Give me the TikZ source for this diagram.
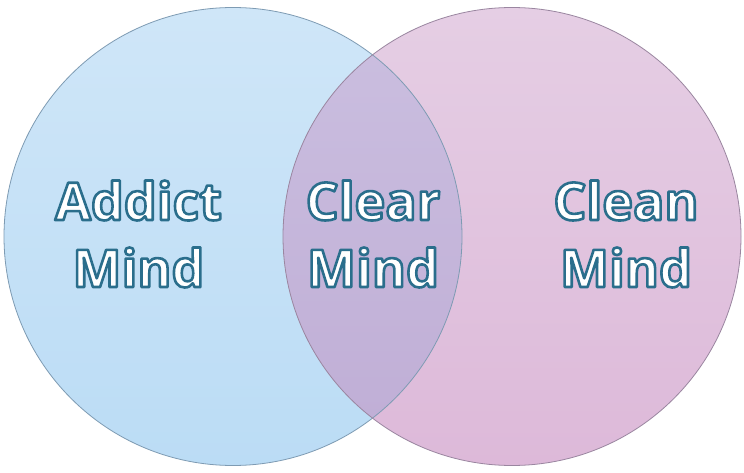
\documentclass[tikz,border=0pt]{standalone}
\usepackage{fontspec}
\newfontfamily\lblfont{Open Sans}
\newcommand{\outlined}[1]{\special{pdf:literal direct 2 Tr 2.6 w 1 j 0.165 0.431 0.549 RG}#1\special{pdf:literal direct 0 Tr}}
\definecolor{blueTop}{HTML}{CFE6F8}
\definecolor{blueBot}{HTML}{BBDCF5}
\definecolor{pinkTop}{HTML}{E5CEE4}
\definecolor{pinkBot}{HTML}{DDB9D9}
\definecolor{midTop}{HTML}{CBBFE0}
\definecolor{midBot}{HTML}{BFADD5}
\definecolor{blueEdge}{HTML}{7E9BB3}
\definecolor{pinkEdge}{HTML}{9A86A0}
\begin{document}
\begin{tikzpicture}[x=1pt,y=-1pt,
  lbl/.style={text=white,font=\lblfont\bfseries\fontsize{52}{67}\selectfont,align=center,inner sep=0pt,anchor=base}]
\useasboundingbox[fill=white] (0,0) rectangle (744,473);
\coordinate (cl) at (233,236.5);
\coordinate (cr) at (512,236.5);
\shade[top color=blueTop,bottom color=blueBot] (cl) circle[radius=229pt];
\shade[top color=pinkTop,bottom color=pinkBot] (cr) circle[radius=229pt];
\begin{scope}
\clip (cl) circle[radius=229pt];
\shade[top color=midTop,bottom color=midBot] (cr) circle[radius=229pt];
\end{scope}
\draw[blueEdge,line width=0.8pt] (cl) circle[radius=229pt];
\draw[pinkEdge,line width=0.8pt] (cr) circle[radius=229pt];
\node[lbl] (addict) at (138.5,287) {\outlined{Addict}\\\outlined{Mind}};
\node[lbl] (clear) at (373,287) {\outlined{Clear}\\\outlined{Mind}};
\node[lbl] (clean) at (626,287) {\outlined{Clean}\\\outlined{Mind}};
\end{tikzpicture}
\end{document}
